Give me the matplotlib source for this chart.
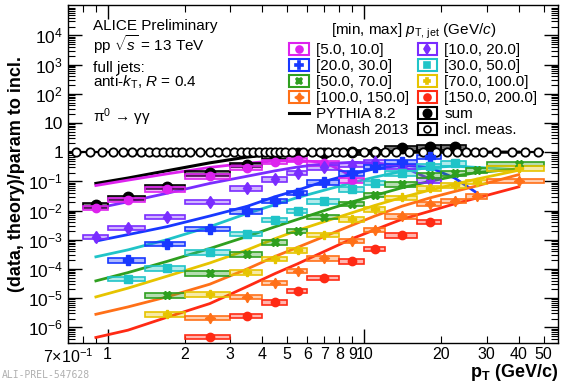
import matplotlib
matplotlib.use('Agg')
import matplotlib.pyplot as plt
from matplotlib.lines import Line2D
from matplotlib.patches import Rectangle
from matplotlib.legend_handler import HandlerTuple
from matplotlib.ticker import FixedLocator, FixedFormatter, LogLocator, NullFormatter
from matplotlib.colors import to_rgba

plt.rcParams['font.family'] = ['Liberation Sans', 'DejaVu Sans']
plt.rcParams['mathtext.fontset'] = 'custom'
plt.rcParams['mathtext.rm'] = 'Liberation Sans'
plt.rcParams['mathtext.it'] = 'Liberation Sans:italic'
plt.rcParams['mathtext.bf'] = 'Liberation Sans:bold'

# ---------------- data ----------------
bin_lo = [0.8, 1.0, 1.4, 2.0, 3.0, 4.0, 5.0, 6.0, 8.0, 10.0, 12.0, 16.0, 20.0, 25.0, 30.0]
bin_hi = [1.0, 1.4, 2.0, 3.0, 4.0, 5.0, 6.0, 8.0, 10.0, 12.0, 16.0, 20.0, 25.0, 30.0, 50.0]
pt_center = [0.9, 1.2, 1.7, 2.5, 3.5, 4.5, 5.5, 7.0, 9.0, 11.0, 14.0, 18.0, 22.5, 27.5, 40.0]

jet_labels = ['[5.0, 10.0]', '[10.0, 20.0]', '[20.0, 30.0]', '[30.0, 50.0]',
              '[50.0, 70.0]', '[70.0, 100.0]', '[100.0, 150.0]', '[150.0, 200.0]']

# measured data (first bin index, values)
start_5_10 = 0
data_5_10 = [0.0123, 0.023, 0.053, 0.15, 0.29, 0.47, 0.56, 0.42, 0.11]
start_10_20 = 0
data_10_20 = [1.26e-3, 2.6e-3, 6.1e-3, 0.020, 0.057, 0.116, 0.195, 0.30, 0.37, 0.47, 0.32, 0.11]
start_20_30 = 1
data_20_30 = [2.0e-4, 7.4e-4, 2.4e-3, 9.3e-3, 0.0215, 0.041, 0.093, 0.19, 0.31, 0.47, 0.70]
start_30_50 = 1
data_30_50 = [4.7e-5, 1.04e-4, 3.7e-4, 1.63e-3, 4.7e-3, 9.8e-3, 0.021, 0.053, 0.088, 0.19, 0.33, 0.42]
start_50_70 = 2
data_50_70 = [1.26e-5, 7.0e-5, 3.2e-4, 8.1e-4, 2.0e-3, 6.1e-3, 0.0166, 0.034, 0.080, 0.16, 0.19, 0.24, 0.39]
start_70_100 = 2
data_70_100 = [2.8e-6, 1.34e-5, 7.6e-5, 2.2e-4, 4.4e-4, 1.45e-3, 5.0e-3, 0.011, 0.028, 0.057, 0.074, 0.096, 0.28]
start_100_150 = 3
data_100_150 = [2.1e-6, 1.12e-5, 3.4e-5, 8.5e-5, 2.3e-4, 9.0e-4, 2.2e-3, 6.3e-3, 0.0166, 0.022, 0.031, 0.104]
start_150_200 = 3
data_150_200 = [4.8e-7, 2.5e-6, 7.1e-6, 1.74e-5, 5.0e-5, 1.85e-4, 4.8e-4, 1.4e-3, 4.1e-3]
start_sum = 0
data_sum = [0.015, 0.028, 0.066, 0.19, 0.37, 0.72, 0.92, 0.95, 1.0, 1.05, 1.35, 1.45, 1.45]

# PYTHIA 8.2 Monash 2013 curves (values at pt_center, starting at first bin)
pythia_sum = [0.085, 0.13, 0.23, 0.43, 0.68, 0.85, 0.93, 0.97, 1.0, 1.0, 1.0, 1.0, 1.0, 1.0, 1.0]
pythia_5_10 = [0.072, 0.11, 0.18, 0.30, 0.42, 0.50, 0.52, 0.45, 0.15]
pythia_10_20 = [0.0118, 0.020, 0.039, 0.085, 0.15, 0.23, 0.31, 0.40, 0.45, 0.43, 0.33, 0.12]
pythia_20_30 = [9.0e-4, 1.5e-3, 2.8e-3, 6.5e-3, 0.014, 0.030, 0.050, 0.10, 0.18, 0.27, 0.36, 0.30, 0.13, 0.04]
pythia_30_50 = [2.6e-4, 4.5e-4, 1.0e-3, 2.8e-3, 8.0e-3, 0.016, 0.028, 0.050, 0.090, 0.14, 0.22, 0.30, 0.33, 0.30, 0.25]
pythia_50_70 = [3.9e-5, 7.5e-5, 1.8e-4, 5.0e-4, 1.3e-3, 2.8e-3, 5.0e-3, 0.010, 0.020, 0.033, 0.060, 0.10, 0.15, 0.20, 0.27]
pythia_70_100 = [1.1e-5, 2.2e-5, 5.6e-5, 1.6e-4, 4.5e-4, 1.1e-3, 2.1e-3, 4.2e-3, 8.5e-3, 0.015, 0.028, 0.050, 0.080, 0.12, 0.24]
pythia_100_150 = [2.8e-6, 5.0e-6, 1.1e-5, 3.0e-5, 1.0e-4, 2.7e-4, 5.5e-4, 1.3e-3, 3.2e-3, 6.5e-3, 0.014, 0.027, 0.045, 0.070, 0.17]
pythia_150_200 = [4.5e-7, 8.0e-7, 2.2e-6, 6.5e-6, 2.5e-5, 7.0e-5, 1.5e-4, 4.0e-4, 1.1e-3, 2.2e-3, 5.0e-3, 9.5e-3, 0.017, 0.027, 0.065]

# inclusive measurement (ratio to its own parametrisation)
incl_edges = [0.7, 0.8, 0.9, 1.0, 1.1, 1.2, 1.3, 1.4, 1.5, 1.6, 1.7, 1.8, 1.9, 2.0,
              2.2, 2.4, 2.6, 2.8, 3.0, 3.2, 3.4, 3.6, 3.8, 4.0, 4.2, 4.4, 4.6, 4.8, 5.0,
              5.5, 6.0, 6.5, 7.0, 7.5, 8.0, 8.5, 9.5, 10.5, 11.5, 12.5, 14.0, 16.0, 18.0,
              20.0, 22.0, 24.0, 26.0, 28.0, 30.0, 35.0, 40.0, 45.0, 50.0]
incl_val = [1.0, 1.0, 1.0, 1.0, 1.0, 1.0, 1.0, 1.0, 1.0, 1.0, 1.0, 1.0, 1.0,
            1.0, 1.0, 1.0, 1.0, 1.0, 1.0, 1.0, 1.0, 1.0, 1.0, 1.0, 1.0, 1.0, 1.0, 1.0,
            1.0, 1.0, 1.0, 1.0, 1.0, 1.0, 1.0, 1.0, 1.0, 1.0, 1.0, 1.0, 1.0, 1.0,
            1.0, 1.0, 1.0, 1.0, 1.0, 1.0, 1.0, 1.0, 1.0, 1.0]

sys_rel = 0.17  # relative size of systematic boxes

# ---------------- style ----------------
col_5_10 = '#dd22ee'
col_10_20 = '#7a2cff'
col_20_30 = '#1838ff'
col_30_50 = '#20c4c8'
col_50_70 = '#2f9f1f'
col_70_100 = '#e6c400'
col_100_150 = '#ff7018'
col_150_200 = '#ff2a14'

series = [
    (data_5_10, start_5_10, pythia_5_10, col_5_10, 'o', 6.0),
    (data_10_20, start_10_20, pythia_10_20, col_10_20, 'd', 6.5),
    (data_20_30, start_20_30, pythia_20_30, col_20_30, 'P', 7.0),
    (data_30_50, start_30_50, pythia_30_50, col_30_50, 's', 5.5),
    (data_50_70, start_50_70, pythia_50_70, col_50_70, 'X', 6.0),
    (data_70_100, start_70_100, pythia_70_100, col_70_100, 'P', 6.0),
    (data_100_150, start_100_150, pythia_100_150, col_100_150, (4, 1, 0), 7.5),
    (data_150_200, start_150_200, pythia_150_200, col_150_200, 'o', 6.0),
]

fig = plt.figure(figsize=(5.61, 3.82), dpi=100)
ax = fig.add_axes([0.121, 0.102, 0.874, 0.885])
ax.set_xscale('log')
ax.set_yscale('log')


def draw_boxes(vals, start, color, face_alpha, z):
    lo = bin_lo[start:start + len(vals)]
    hi = bin_hi[start:start + len(vals)]
    bottoms = [v * (1 - sys_rel) for v in vals]
    heights = [v * (1 + sys_rel) - v * (1 - sys_rel) for v in vals]
    widths = [h - l for l, h in zip(lo, hi)]
    ax.bar(lo, heights, width=widths, bottom=bottoms, align='edge',
           facecolor=to_rgba(color, face_alpha), edgecolor=color, linewidth=1.2, zorder=z)


# PYTHIA lines
ax.plot(pt_center[:len(pythia_sum)], pythia_sum, color='black', lw=2.2, zorder=2)
for vals, start, pyth, color, marker, ms in series:
    ax.plot(pt_center[:len(pyth)], pyth, color=color, lw=2.0, zorder=2)

# inclusive measurement
incl_x = [(a + b) / 2 for a, b in zip(incl_edges[:-1], incl_edges[1:])]
incl_xerr = [[x - a for x, a in zip(incl_x, incl_edges[:-1])],
             [b - x for x, b in zip(incl_x, incl_edges[1:])]]
ax.errorbar(incl_x, incl_val, xerr=incl_xerr, fmt='o', mfc='white', mec='black', ecolor='black',
            ms=6.0, mew=1.3, elinewidth=1.6, capsize=0, zorder=6)

# sum
draw_boxes(data_sum, start_sum, 'black', 0.55, 3)
ax.plot(pt_center[start_sum:start_sum + len(data_sum)], data_sum, ls='none', marker='o',
        color='black', ms=7.5, zorder=4)

# jet pT bins
for vals, start, pyth, color, marker, ms in series:
    draw_boxes(vals, start, color, 0.35, 5)
    ax.plot(pt_center[start:start + len(vals)], vals, ls='none', marker=marker, color=color,
            ms=ms, mew=1.0, zorder=7)

ax.set_xlim(0.7, 57)
ax.set_ylim(2.9e-7, 1.1e5)

# ticks
ax.xaxis.set_major_locator(FixedLocator([1, 10]))
ax.xaxis.set_major_formatter(FixedFormatter(['1', '10']))
xminor = [0.7, 0.8, 0.9, 2, 3, 4, 5, 6, 7, 8, 9, 20, 30, 40, 50]
xminor_lab = [r'7$\times$10$^{-1}$', '', '', '2', '3', '4', '5', '6', '7', '8', '9', '20', '30', '40', '50']
ax.xaxis.set_minor_locator(FixedLocator(xminor))
ax.xaxis.set_minor_formatter(FixedFormatter(xminor_lab))

ymaj = [1e-6, 1e-5, 1e-4, 1e-3, 1e-2, 1e-1, 1, 10, 1e2, 1e3, 1e4]
ylab = [r'10$^{-6}$', r'10$^{-5}$', r'10$^{-4}$', r'10$^{-3}$', r'10$^{-2}$', r'10$^{-1}$',
        '1', '10', r'10$^{2}$', r'10$^{3}$', r'10$^{4}$']
ax.yaxis.set_major_locator(FixedLocator(ymaj))
ax.yaxis.set_major_formatter(FixedFormatter(ylab))
ax.yaxis.set_minor_locator(LogLocator(base=10, subs=[2, 3, 4, 5, 6, 7, 8, 9], numticks=30))
ax.yaxis.set_minor_formatter(NullFormatter())

ax.tick_params(which='both', direction='in', top=True, right=True, labelsize=12.5)
ax.tick_params(axis='x', which='both', labelsize=11.5)
ax.tick_params(which='major', length=10, width=1.0)
ax.tick_params(which='minor', length=5, width=0.8)
ax.tick_params(axis='x', which='both', pad=3)
for s in ax.spines.values():
    s.set_linewidth(1.0)

ax.set_ylabel('(data, theory)/param to incl.', fontsize=13, fontweight='bold', labelpad=2)
ax.set_xlabel(r'$\mathbf{p}_{\mathbf{T}}$ (GeV/$\mathbf{c}$)', fontsize=13, fontweight='bold',
              ha='right')
ax.xaxis.set_label_coords(1.0, -0.056)
ax.xaxis.label.set_va('top')

# text block
tx = 0.051
ax.text(tx, 0.938, 'ALICE Preliminary', transform=ax.transAxes, fontsize=11, va='center')
ax.text(tx, 0.884, r'pp $\sqrt{s}$ = 13 TeV', transform=ax.transAxes, fontsize=11, va='center')
ax.text(tx, 0.815, 'full jets:', transform=ax.transAxes, fontsize=11, va='center')
ax.text(tx, 0.770, r'anti-$k_{\mathrm{T}}$, $R$ = 0.4', transform=ax.transAxes, fontsize=11, va='center')
ax.text(tx, 0.668, r'π$^{0}$ → γγ', transform=ax.transAxes, fontsize=11, va='center')

# legend
def hbox(color, marker, ms, mfc=None):
    rect = Rectangle((0, 0), 1, 1, facecolor='white', edgecolor=color, linewidth=1.5)
    mk = Line2D([], [], ls='none', marker=marker, color=color, ms=ms,
                mfc=color if mfc is None else mfc, mew=1.2)
    return (rect, mk)

cols = [c[3] for c in series]
mks = [c[4] for c in series]
mss = [c[5] - 1.0 for c in series]
handles = [hbox(cols[0], mks[0], mss[0]), hbox(cols[2], mks[2], mss[2]), hbox(cols[4], mks[4], mss[4]),
           hbox(cols[6], mks[6], mss[6]), Line2D([], [], color='black', lw=2.2),
           Line2D([], [], ls='none'),
           hbox(cols[1], mks[1], mss[1]), hbox(cols[3], mks[3], mss[3]), hbox(cols[5], mks[5], mss[5]),
           hbox(cols[7], mks[7], mss[7]), hbox('black', 'o', 6.0),
           hbox('black', 'o', 5.0, mfc='white')]
labels = [jet_labels[0], jet_labels[2], jet_labels[4], jet_labels[6], 'PYTHIA 8.2', 'Monash 2013',
          jet_labels[1], jet_labels[3], jet_labels[5], jet_labels[7], 'sum', 'incl. meas.']
leg = ax.legend(handles, labels, ncol=2, loc='upper left', bbox_to_anchor=(0.436, 0.972),
                frameon=False, fontsize=11, handlelength=1.3, handleheight=0.75,
                handletextpad=0.45, columnspacing=0.55, labelspacing=0.13, borderpad=0.0,
                title=r'[min, max] $p_{\mathrm{T,\,jet}}$ (GeV/$c$)', title_fontsize=11,
                handler_map={tuple: HandlerTuple(ndivide=1)})
leg.set_zorder(10)

fig.text(0.004, 0.004, 'ALI-PREL-547628', fontsize=7, color='#b0b0b0', family='DejaVu Sans Mono',
         va='bottom', ha='left')

fig.savefig('out.png', dpi=100)
